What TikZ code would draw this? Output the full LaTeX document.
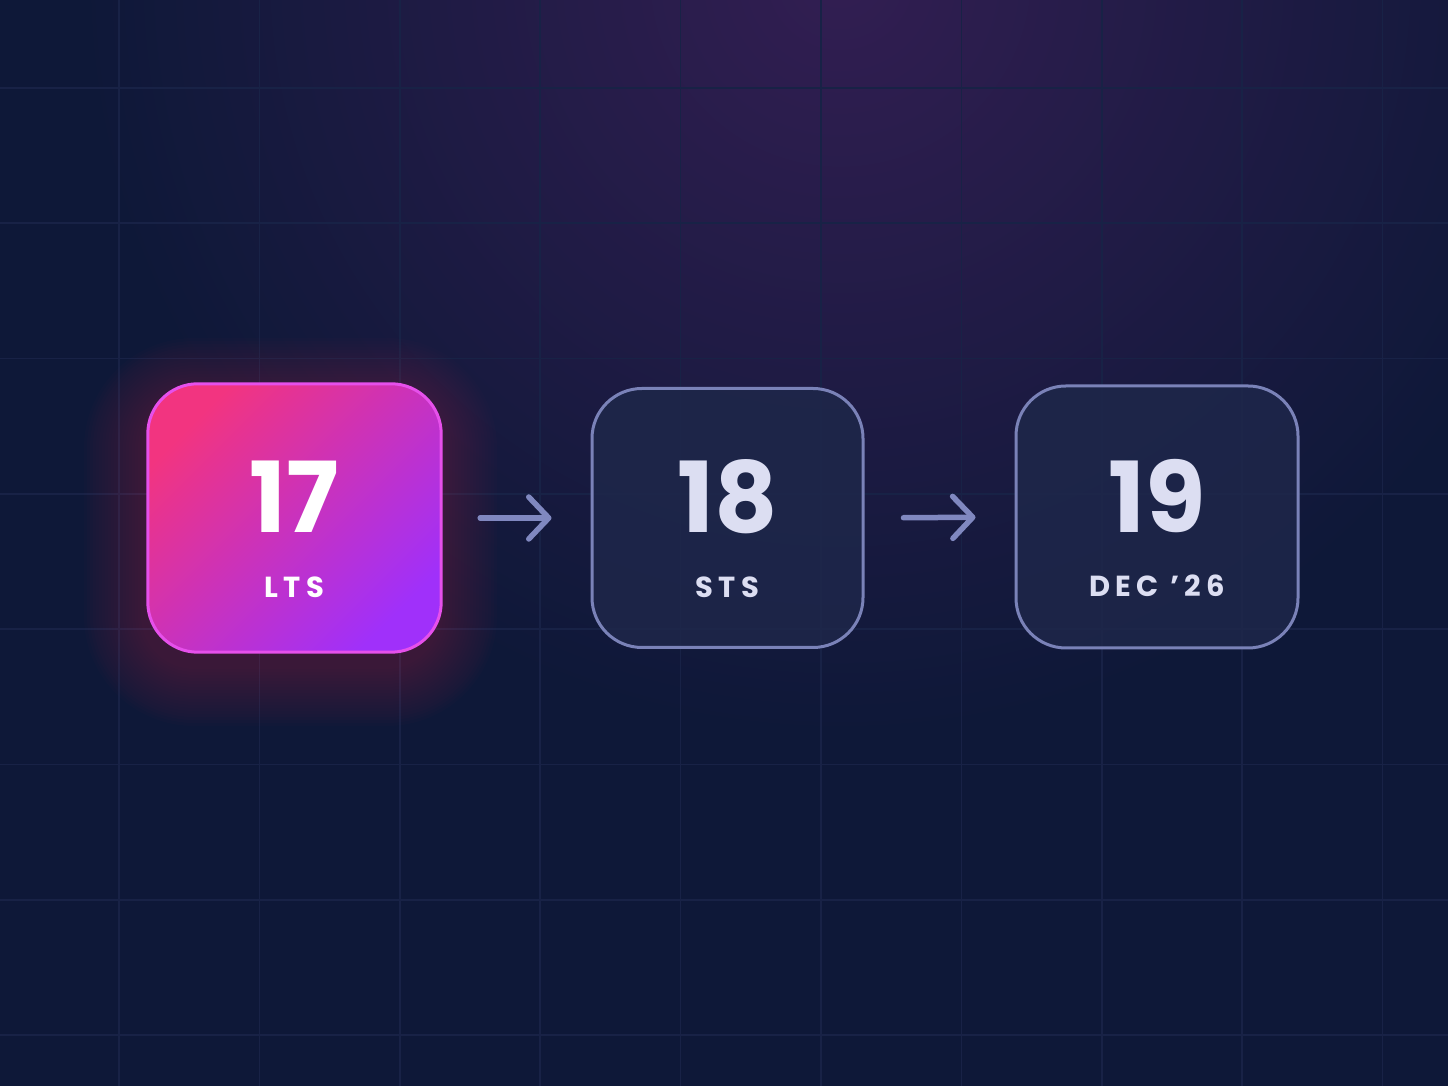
\documentclass[tikz,border=0pt]{standalone}
\usepackage{fontspec}
\newfontfamily\pop{Poppins}
\newfontfamily\poplab{Poppins}[LetterSpace=18]
\usetikzlibrary{arrows.meta}
\definecolor{bgc}{RGB}{14,24,56}
\definecolor{bgpurple}{RGB}{50,30,82}
\definecolor{gridc}{RGB}{24,34,70}
\definecolor{glowc}{RGB}{215,40,110}
\definecolor{pinkc}{RGB}{242,52,128}
\definecolor{violc}{RGB}{160,48,250}
\definecolor{pborder}{RGB}{230,80,235}
\definecolor{darkbox}{RGB}{30,39,74}
\definecolor{dborder}{RGB}{122,130,184}
\definecolor{softtext}{RGB}{220,222,242}
\definecolor{arrc}{RGB}{128,136,192}
\tikzset{
  boxshape/.style={rectangle, rounded corners=50, minimum width=#1, minimum height=262, inner sep=0pt},
  darkbox/.style={boxshape=#1, draw=dborder, line width=3pt, fill=darkbox, fill opacity=0.85},
  numtxt/.style={font=\pop\bfseries\fontsize{98}{98}\selectfont, inner sep=0pt},
  labtxt/.style={font=\poplab\bfseries\fontsize{29}{29}\selectfont, inner sep=0pt},
  arr/.style={draw=arrc, line width=5.5pt, line cap=round, line join=round,
    -{Straight Barb[length=20pt, width=42pt, round]}, shorten >=39pt, shorten <=39pt}
}
\begin{document}
\begin{tikzpicture}[x=1pt, y=1pt]
\useasboundingbox (0,0) rectangle (1448,1086);
% background
\fill[bgc] (0,0) rectangle (1448,1086);
\begin{scope}
\clip (0,0) rectangle (1448,1086);
\shade[inner color=bgpurple, outer color=bgc] (840,1110) circle (760);
\end{scope}
% grid
\foreach \k in {0,...,9} \draw[gridc, line width=1.6pt] (119+140.4*\k,0) -- (119+140.4*\k,1086);
\foreach \k in {0,...,7} \draw[gridc, line width=1.6pt] (0,998-135.3*\k) -- (1448,998-135.3*\k);
% glow behind box 1
\foreach \i in {1,...,20}
  \fill[glowc, opacity=0.015, rounded corners={50+3*\i}]
    (148-3*\i-4,434-3*\i-14) rectangle (441+3*\i-4,702+3*\i-14);
% box 1
\node[boxshape=293, minimum height=268] (b1) at (294.5,568) {};
\shade[rounded corners=50, top color=pinkc, bottom color=violc, shading angle=45]
  (b1.south west) rectangle (b1.north east);
\draw[pborder, line width=3pt, rounded corners=50] (b1.south west) rectangle (b1.north east);
% boxes 2 and 3
\node[darkbox=271, minimum height=259] (b2) at (727.5,568) {};
\node[darkbox=282, minimum height=262] (b3) at (1157,569) {};
% texts
\node[numtxt, text=white] (n17) at ([yshift=21]b1.center) {17};
\node[labtxt, text=white] (l17) at ([yshift=-69]b1.center) {LTS};
\node[numtxt, text=softtext] (n18) at ([yshift=21]b2.center) {18};
\node[labtxt, text=softtext] (l18) at ([yshift=-69]b2.center) {STS};
\node[numtxt, text=softtext] (n19) at ([yshift=21]b3.center) {19};
\node[labtxt, text=softtext] (l19) at ([yshift=-69]b3.center) {DEC ’26};
% arrows
\draw[arr] (b1.east) -- (b2.west);
\draw[arr] (b2.east) -- (b3.west);
\end{tikzpicture}
\end{document}
